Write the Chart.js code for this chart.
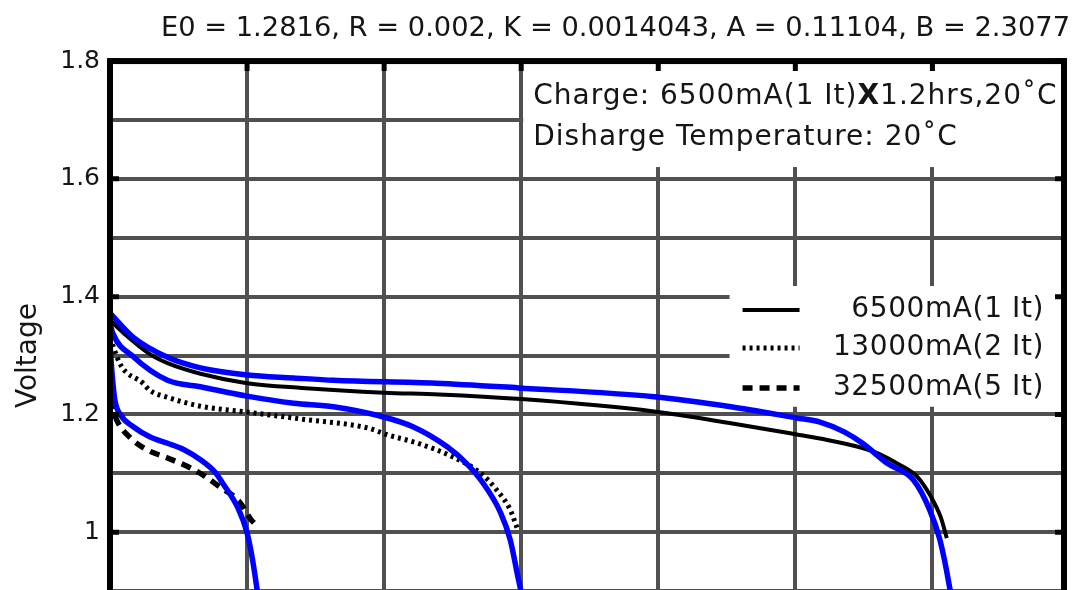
<!DOCTYPE html>
<html>
<head>
<meta charset="utf-8">
<script src="https://cdn.jsdelivr.net/npm/chart.js@4.4.1/dist/chart.umd.min.js"></script>
<style>
  html, body { margin: 0; padding: 0; background: #ffffff; overflow: hidden; width: 1077px; height: 590px; }
  #wrap { width: 1077px; height: 740px; }
</style>
</head>
<body>
<div id="wrap"><canvas id="c" width="1077" height="740"></canvas></div>
<script>
// ---- texts ----
const titleText = 'E0 = 1.2816, R = 0.002, K = 0.0014043, A = 0.11104, B = 2.3077';
const yTitle = 'Voltage';
const xTitle = 'Time (min)';
const chargeNote = ['Charge: 6500mA(1 It)', 'X', '1.2hrs,20˚C'];
const tempNote = 'Disharge Temperature: 20˚C';
const seriesLabels = ['6500mA(1 It)', '13000mA(2 It)', '32500mA(5 It)'];

// ---- measured discharge curves (time in min, voltage in V) ----
const tMeas1 = [0, 1, 3, 4.2, 6.6, 10, 14, 20, 24, 30, 39.7, 45.3, 50.1, 51.8, 54.9, 56.1, 57.4, 58.9, 59.9, 60.6, 61.05];
const vMeas1 = [1.360, 1.338, 1.301, 1.287, 1.269, 1.253, 1.245, 1.237, 1.234, 1.226, 1.205, 1.185, 1.166, 1.159, 1.143, 1.133, 1.117, 1.094, 1.060, 1.026, 0.990];

const tMeas2 = [0, 0.8, 2.4, 2.9, 4.2, 6.6, 10, 14, 18.8, 20.3, 22.6, 25.0, 27.0, 28.2, 29.2, 29.7];
const vMeas2 = [1.330, 1.283, 1.253, 1.241, 1.229, 1.214, 1.204, 1.192, 1.177, 1.165, 1.150, 1.128, 1.101, 1.072, 1.038, 1.007];

const tMeas5 = [0, 0.5, 1.5, 2.7, 4.2, 5.7, 6.8, 8.0, 9.4, 10.3, 10.5];
const vMeas5 = [1.225, 1.190, 1.160, 1.140, 1.126, 1.111, 1.097, 1.077, 1.053, 1.021, 1.016];

// ---- model curves ----
const tModel1 = [0, 1.7, 4.2, 6.6, 10, 13.4, 16.3, 23.8, 29.8, 39.7, 45.3, 50.1, 51.8, 53.6, 54.9, 56.7, 58.6, 59.8, 60.55, 61.25, 61.75, 62.05];
const vModel1 = [1.372, 1.331, 1.297, 1.279, 1.267, 1.262, 1.258, 1.253, 1.245, 1.230, 1.213, 1.194, 1.187, 1.170, 1.151, 1.117, 1.089, 1.038, 0.987, 0.907, 0.830, 0.780];

const tModel2 = [0, 0.2, 1.7, 4.2, 6.6, 10, 13.4, 16.3, 19.9, 22.1, 24.6, 26.0, 27.2, 28.5, 29.2, 29.7, 30.1, 30.4, 30.7];
const vModel2 = [1.355, 1.338, 1.298, 1.258, 1.247, 1.231, 1.219, 1.213, 1.196, 1.179, 1.145, 1.117, 1.084, 1.033, 0.987, 0.931, 0.885, 0.840, 0.790];

const tModel5 = [0, 0.15, 0.35, 0.75, 1.7, 2.9, 4.2, 5.4, 6.6, 7.7, 8.2, 9.4, 10.0, 10.4, 10.7, 11.0, 11.2];
const vModel5 = [1.320, 1.270, 1.225, 1.200, 1.179, 1.162, 1.151, 1.140, 1.123, 1.101, 1.084, 1.038, 0.999, 0.953, 0.907, 0.850, 0.800];

// ---- axis ticks ----
const xTicks = [0, 10, 20, 30, 40, 50, 60];
const yMajor = [0.8, 1.0, 1.2, 1.4, 1.6, 1.8];
const xMax = 69.6;

const FONT = 'DejaVu Sans';
const pts = (t, v) => t.map((x, i) => ({ x: x, y: v[i] }));

const measStyle = (label, t, v, dash, width) => ({
  label: label, data: pts(t, v), borderColor: '#000000', borderWidth: width,
  borderDash: dash, pointRadius: 0, cubicInterpolationMode: 'monotone', order: 2, fill: false
});
const modelStyle = (t, v) => ({
  label: '', data: pts(t, v), borderColor: '#0000ff', borderWidth: 5.5,
  pointRadius: 0, cubicInterpolationMode: 'monotone', order: 1, fill: false
});

// White panels with the test conditions and the line-style key
const panelsPlugin = {
  id: 'panels',
  beforeDatasetsDraw(chart) {
    const { ctx, scales: { x, y } } = chart;
    ctx.save();
    ctx.fillStyle = '#ffffff';
    // conditions panel
    const aL = x.getPixelForValue(30) + 2, aR = x.getPixelForValue(xMax), aT = y.getPixelForValue(1.8), aB = y.getPixelForValue(1.62);
    ctx.fillRect(aL, aT, aR - aL, aB - aT);
    // key panel
    const kL = x.getPixelForValue(45.2), kR = x.getPixelForValue(xMax), kT = y.getPixelForValue(1.418), kB = y.getPixelForValue(1.213);
    ctx.fillRect(kL, kT, kR - kL, kB - kT);

    ctx.fillStyle = '#151515';
    ctx.textBaseline = 'middle';
    ctx.textAlign = 'left';
    if ('letterSpacing' in ctx) ctx.letterSpacing = '1px';
    let tx = aL + 10;
    const row1 = aT + 36, row2 = aT + 77;
    ctx.font = '28px "' + FONT + '"';
    ctx.fillText(chargeNote[0], tx, row1);
    tx += ctx.measureText(chargeNote[0]).width;
    ctx.font = 'bold 28px "' + FONT + '"';
    ctx.fillText(chargeNote[1], tx, row1);
    tx += ctx.measureText(chargeNote[1]).width;
    ctx.font = '28px "' + FONT + '"';
    ctx.fillText(chargeNote[2], tx, row1);
    ctx.fillText(tempNote, aL + 10, row2);

    // key entries drawn from the measured datasets
    if ('letterSpacing' in ctx) ctx.letterSpacing = '0.6px';
    const keyed = chart.data.datasets.filter(d => seriesLabels.includes(d.label));
    const rowsY = [kT + 24, kT + 62, kT + 102];
    keyed.forEach((d, i) => {
      const ry = rowsY[i];
      ctx.beginPath();
      ctx.setLineDash(d.borderDash || []);
      ctx.lineWidth = d.borderWidth;
      ctx.strokeStyle = d.borderColor;
      ctx.moveTo(kL + 13, ry);
      ctx.lineTo(kL + 70, ry);
      ctx.stroke();
      ctx.setLineDash([]);
      ctx.textAlign = 'right';
      ctx.font = '28px "' + FONT + '"';
      ctx.fillText(d.label, kR - 20, ry);
    });
    ctx.restore();
  }
};

// Heavy black axes box with inward tick marks
const framePlugin = {
  id: 'frame',
  afterDatasetsDraw(chart) {
    const { ctx, chartArea: a, scales: { x, y } } = chart;
    ctx.save();
    ctx.strokeStyle = '#000000';
    ctx.lineWidth = 6;
    ctx.strokeRect(a.left, a.top, a.right - a.left, a.bottom - a.top);
    ctx.lineWidth = 5;
    ctx.beginPath();
    yMajor.forEach(v => {
      const py = y.getPixelForValue(v);
      ctx.moveTo(a.left, py); ctx.lineTo(a.left + 9, py);
      ctx.moveTo(a.right, py); ctx.lineTo(a.right - 9, py);
    });
    xTicks.forEach(v => {
      const px = x.getPixelForValue(v);
      ctx.moveTo(px, a.top); ctx.lineTo(px, a.top + 10);
      ctx.moveTo(px, a.bottom); ctx.lineTo(px, a.bottom - 10);
    });
    ctx.stroke();
    ctx.restore();
  }
};

new Chart(document.getElementById('c'), {
  type: 'line',
  data: {
    datasets: [
      measStyle(seriesLabels[0], tMeas1, vMeas1, [], 4),
      measStyle(seriesLabels[1], tMeas2, vMeas2, [3, 4], 5),
      measStyle(seriesLabels[2], tMeas5, vMeas5, [10, 7], 5.5),
      modelStyle(tModel1, vModel1),
      modelStyle(tModel2, vModel2),
      modelStyle(tModel5, vModel5)
    ]
  },
  options: {
    responsive: false,
    animation: false,
    devicePixelRatio: 1,
    layout: { padding: { left: 8, right: 7, top: 6, bottom: 10 } },
    plugins: {
      legend: { display: false },
      tooltip: { enabled: false },
      title: {
        display: true, text: titleText, align: 'end', color: '#151515',
        font: { family: FONT, size: 27.3, weight: 'normal' },
        padding: { top: 7, bottom: 15.3 }
      }
    },
    scales: {
      x: {
        type: 'linear', min: 0, max: xMax,
        afterBuildTicks: s => { s.ticks = xTicks.map(v => ({ value: v })); },
        ticks: { color: '#151515', align: 'inner', font: { family: FONT, size: 22 } },
        grid: { color: '#505050', lineWidth: 4, drawTicks: false },
        border: { display: false },
        title: { display: true, text: xTitle, color: '#151515', font: { family: FONT, size: 22 } },
        afterFit: s => { s.height = 80; }
      },
      y: {
        min: 0.8, max: 1.8,
        ticks: {
          stepSize: 0.1, autoSkip: false, padding: 10, color: '#151515',
          font: { family: FONT, size: 25 },
          callback: v => (Math.round(v * 10) % 2 === 0 ? String(Number(v.toFixed(1))) : '')
        },
        grid: { color: '#505050', lineWidth: 4, drawTicks: false },
        border: { display: false },
        title: { display: true, text: yTitle, color: '#151515', font: { family: FONT, size: 28 }, padding: { top: 4, bottom: 4 } },
        afterFit: s => { s.width = 102; }
      },
      yRight: {
        position: 'right', display: true,
        grid: { display: false }, ticks: { display: false }, border: { display: false },
        afterFit: s => { s.width = 6; }
      }
    }
  },
  plugins: [panelsPlugin, framePlugin]
});
</script>
</body>
</html>
